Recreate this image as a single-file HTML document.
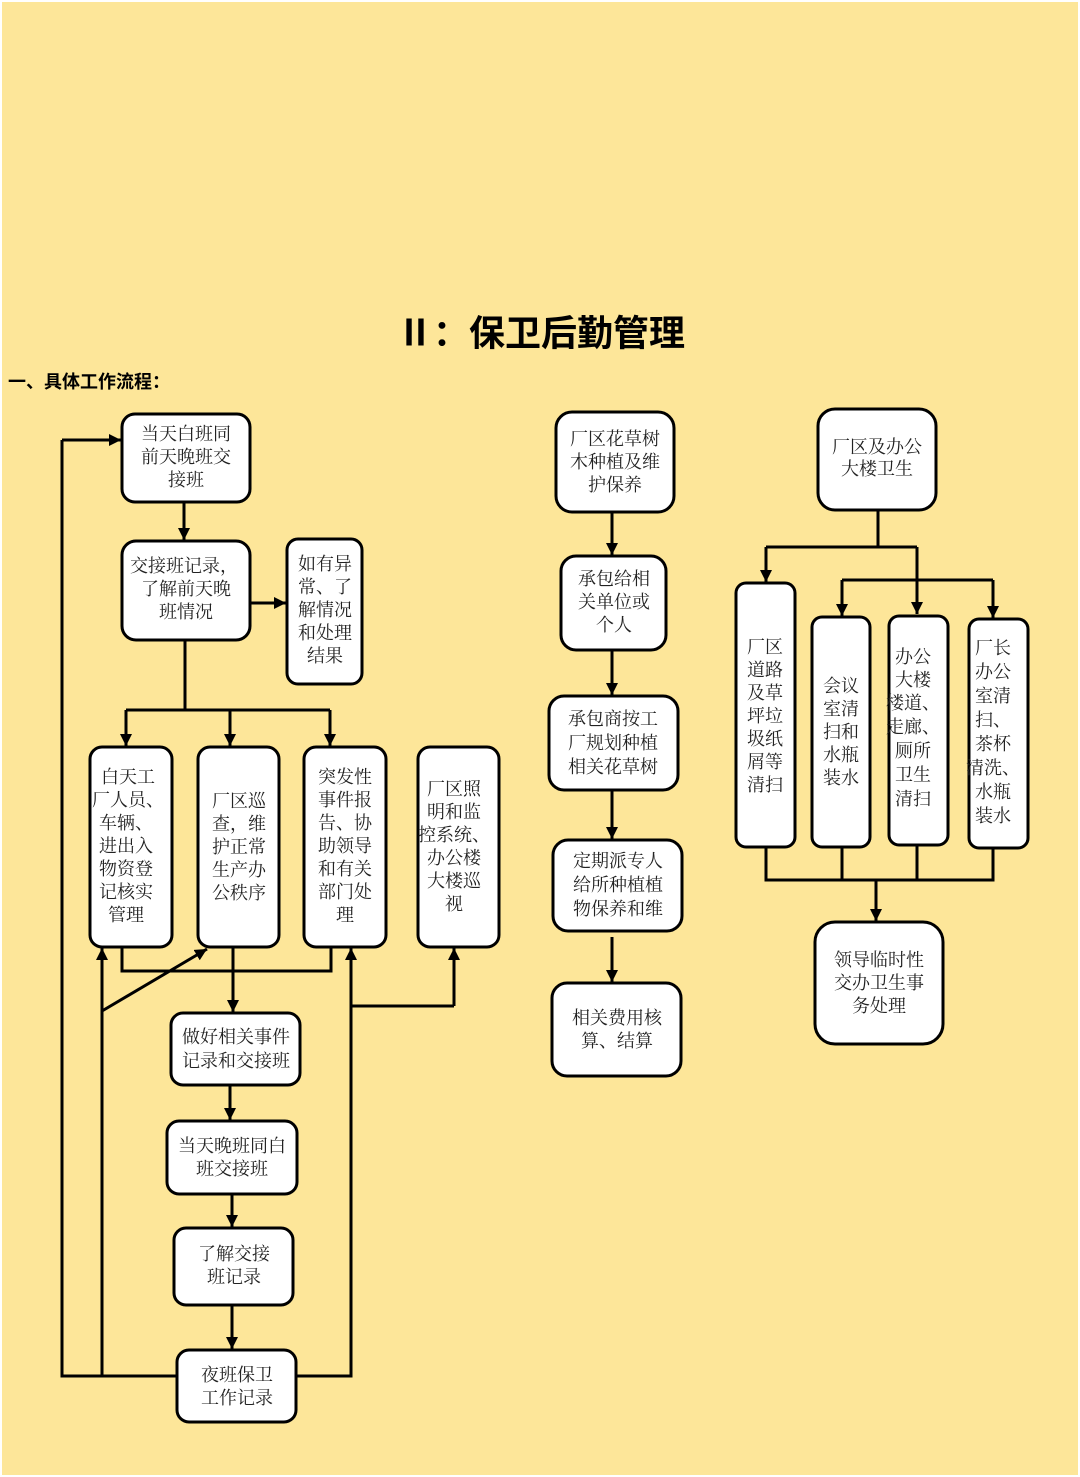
<!DOCTYPE html>
<html><head><meta charset="utf-8"><style>
html,body{margin:0;padding:0;background:#fff}
svg{display:block}
text{font-family:"Liberation Serif","Noto Serif CJK SC",serif;font-size:18px;fill:#222;text-anchor:middle;dominant-baseline:central}
.b{fill:#fff;stroke:#000;stroke-width:3}
.l{fill:none;stroke:#000;stroke-width:3}
</style></head><body>
<svg width="1080" height="1477" viewBox="0 0 1080 1477" xmlns="http://www.w3.org/2000/svg">
<defs><marker id="a" markerWidth="8" markerHeight="8" refX="7" refY="4" orient="auto" markerUnits="userSpaceOnUse"><path d="M0,0 L8,4 L0,8 z" fill="#000"/></marker>
<marker id="m" viewBox="0 0 10 10" markerWidth="12" markerHeight="12" refX="10" refY="5" orient="auto" markerUnits="userSpaceOnUse"><path d="M0,0 L10,5 L0,10 z" fill="#000"/></marker></defs>
<rect x="2" y="2" width="1076" height="1473" fill="#FDE699"/>
<text x="541" y="333" style="font-family:'Liberation Sans','Noto Sans CJK SC',sans-serif;font-size:36px;font-weight:bold;fill:#000">Ⅱ：保卫后勤管理</text>
<text x="8" y="382" style="font-family:'Liberation Sans','Noto Sans CJK SC',sans-serif;font-size:18px;font-weight:bold;fill:#000;text-anchor:start">一、具体工作流程：</text>

<!-- connectors left -->
<g class="l">
<line x1="184" y1="502" x2="184" y2="540" marker-end="url(#m)"/>
<line x1="250" y1="603" x2="286" y2="603" marker-end="url(#m)"/>
<polyline points="185,640 185,710"/>
<line x1="126" y1="710" x2="330" y2="710"/>
<line x1="126" y1="710" x2="126" y2="746" marker-end="url(#m)"/>
<line x1="230" y1="710" x2="230" y2="746" marker-end="url(#m)"/>
<line x1="330" y1="710" x2="330" y2="746" marker-end="url(#m)"/>
<polyline points="122,947 122,971 331,971 331,947"/>
<line x1="233" y1="947" x2="233" y2="1012" marker-end="url(#m)"/>
<line x1="230" y1="1085" x2="230" y2="1120" marker-end="url(#m)"/>
<line x1="232" y1="1194" x2="232" y2="1227" marker-end="url(#m)"/>
<line x1="232" y1="1305" x2="232" y2="1349" marker-end="url(#m)"/>
<polyline points="177,1376 62,1376 62,440"/>
<line x1="62" y1="440" x2="121" y2="440" marker-end="url(#m)"/>
<line x1="102" y1="1376" x2="102" y2="948" marker-end="url(#m)"/>
<line x1="102" y1="1011" x2="207" y2="949" marker-end="url(#m)"/>
<polyline points="296,1376 351,1376 351,1006 454,1006"/>
<line x1="351" y1="1006" x2="351" y2="948" marker-end="url(#m)"/>
<line x1="454" y1="1006" x2="454" y2="948" marker-end="url(#m)"/>
<!-- middle -->
<line x1="612" y1="512" x2="612" y2="555" marker-end="url(#m)"/>
<line x1="612" y1="650" x2="612" y2="695" marker-end="url(#m)"/>
<line x1="612" y1="790" x2="612" y2="839" marker-end="url(#m)"/>
<line x1="612" y1="937" x2="612" y2="982" marker-end="url(#m)"/>
<!-- right -->
<polyline points="878,510 878,547"/>
<line x1="766" y1="547" x2="917" y2="547"/>
<line x1="766" y1="547" x2="766" y2="582" marker-end="url(#m)"/>
<line x1="917" y1="547" x2="917" y2="614" marker-end="url(#m)"/>
<line x1="842" y1="580" x2="993" y2="580"/>
<line x1="842" y1="580" x2="842" y2="616" marker-end="url(#m)"/>
<line x1="993" y1="580" x2="993" y2="618" marker-end="url(#m)"/>
<polyline points="766,847 766,880 993,880 993,848"/>
<line x1="842" y1="847" x2="842" y2="880"/>
<line x1="917" y1="845" x2="917" y2="880"/>
<line x1="876" y1="880" x2="876" y2="921" marker-end="url(#m)"/>
</g>

<!-- boxes -->
<g class="b">
<rect x="122" y="414" width="128" height="88" rx="13"/>
<rect x="122" y="541" width="128" height="99" rx="14"/>
<rect x="287" y="539" width="75" height="145" rx="11"/>
<rect x="90" y="747" width="82" height="200" rx="12"/>
<rect x="198" y="747" width="81" height="200" rx="12"/>
<rect x="304" y="747" width="82" height="200" rx="12"/>
<rect x="418" y="747" width="81" height="200" rx="12"/>
<rect x="171" y="1013" width="129" height="72" rx="12"/>
<rect x="167" y="1121" width="130" height="73" rx="12"/>
<rect x="174" y="1228" width="119" height="77" rx="12"/>
<rect x="177" y="1350" width="119" height="72" rx="12"/>
<rect x="556" y="412" width="118" height="100" rx="16"/>
<rect x="561" y="556" width="105" height="94" rx="15"/>
<rect x="549" y="696" width="129" height="94" rx="15"/>
<rect x="553" y="840" width="129" height="91" rx="15"/>
<rect x="552" y="983" width="129" height="93" rx="15"/>
<rect x="818" y="409" width="118" height="101" rx="17"/>
<rect x="736" y="583" width="59" height="264" rx="10"/>
<rect x="812" y="617" width="58" height="230" rx="10"/>
<rect x="889" y="616" width="59" height="229" rx="10"/>
<rect x="969" y="619" width="59" height="229" rx="10"/>
<rect x="815" y="922" width="128" height="122" rx="20"/>
</g>

<g>
<text x="186" y="434">当天白班同</text><text x="186" y="457">前天晚班交</text><text x="186" y="480">接班</text>
<text x="184" y="566">交接班记录，</text><text x="186" y="589">了解前天晚</text><text x="186" y="612">班情况</text>
<text x="325" y="564">如有异</text><text x="325" y="587">常、了</text><text x="325" y="610">解情况</text><text x="325" y="633">和处理</text><text x="325" y="656">结果</text>
<text x="128" y="777">白天工</text><text x="128" y="800">厂人员、</text><text x="126" y="823">车辆、</text><text x="126" y="846">进出入</text><text x="126" y="869">物资登</text><text x="126" y="892">记核实</text><text x="126" y="915">管理</text>
<text x="239" y="801">厂区巡</text><text x="239" y="824">查，维</text><text x="239" y="847">护正常</text><text x="239" y="870">生产办</text><text x="239" y="893">公秩序</text>
<text x="345" y="777">突发性</text><text x="345" y="800">事件报</text><text x="345" y="823">告、协</text><text x="345" y="846">助领导</text><text x="345" y="869">和有关</text><text x="345" y="892">部门处</text><text x="345" y="915">理</text>
<text x="454" y="789">厂区照</text><text x="454" y="812">明和监</text><text x="454" y="835">控系统、</text><text x="454" y="858">办公楼</text><text x="454" y="881">大楼巡</text><text x="454" y="904">视</text>
<text x="236" y="1037">做好相关事件</text><text x="236" y="1061">记录和交接班</text>
<text x="232" y="1146">当天晚班同白</text><text x="232" y="1169">班交接班</text>
<text x="234" y="1254">了解交接</text><text x="234" y="1277">班记录</text>
<text x="237" y="1375">夜班保卫</text><text x="237" y="1398">工作记录</text>
<text x="615" y="439">厂区花草树</text><text x="615" y="462">木种植及维</text><text x="615" y="485">护保养</text>
<text x="614" y="579">承包给相</text><text x="614" y="602">关单位或</text><text x="614" y="625">个人</text>
<text x="613" y="719">承包商按工</text><text x="613" y="743">厂规划种植</text><text x="613" y="767">相关花草树</text>
<text x="618" y="861">定期派专人</text><text x="618" y="885">给所种植植</text><text x="618" y="909">物保养和维</text>
<text x="617" y="1018">相关费用核</text><text x="617" y="1041">算、结算</text>
<text x="877" y="447">厂区及办公</text><text x="877" y="469">大楼卫生</text>
<text x="765" y="647">厂区</text><text x="765" y="670">道路</text><text x="765" y="693">及草</text><text x="765" y="716">坪垃</text><text x="765" y="739">圾纸</text><text x="765" y="762">屑等</text><text x="765" y="785">清扫</text>
<text x="841" y="686">会议</text><text x="841" y="709">室清</text><text x="841" y="732">扫和</text><text x="841" y="755">水瓶</text><text x="841" y="778">装水</text>
<text x="913" y="657">办公</text><text x="913" y="680">大楼</text><text x="913" y="703">楼道、</text><text x="913" y="727">走廊、</text><text x="913" y="751">厕所</text><text x="913" y="775">卫生</text><text x="913" y="799">清扫</text>
<text x="993" y="648">厂长</text><text x="993" y="672">办公</text><text x="993" y="696">室清</text><text x="993" y="720">扫、</text><text x="993" y="744">茶杯</text><text x="993" y="768">清洗、</text><text x="993" y="792">水瓶</text><text x="993" y="816">装水</text>
<text x="879" y="960">领导临时性</text><text x="879" y="983">交办卫生事</text><text x="879" y="1006">务处理</text>
</g>
</svg>
</body></html>
